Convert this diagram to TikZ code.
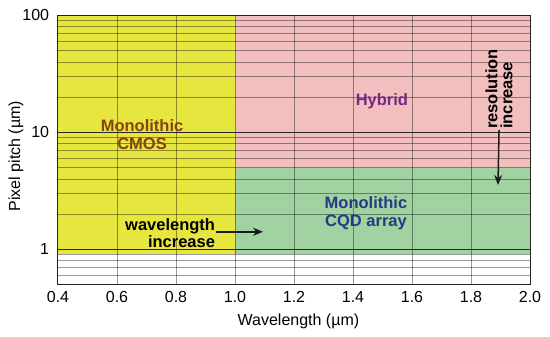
\documentclass[tikz,border=0pt]{standalone}
\usepackage{fontspec}
\setmainfont{Liberation Sans}
\usepackage{tikz}
\usetikzlibrary{positioning, arrows.meta}
\usepackage{xcolor}
\definecolor{cmosyellow}{RGB}{230,230,62}
\definecolor{hybridpink}{RGB}{242,190,190}
\definecolor{cqdgreen}{RGB}{160,210,162}
\definecolor{cmosbrown}{RGB}{132,66,22}
\definecolor{hybridpurple}{RGB}{115,40,130}
\definecolor{cqdblue}{RGB}{38,58,132}

\begin{document}
\begin{tikzpicture}[x=295pt, y=117pt,
    font=\fontsize{16}{18}\selectfont,
    gridline/.style={black, opacity=0.4, line width=0.5pt},
    majorline/.style={black!85, line width=0.9pt},
    regionlabel/.style={font=\fontsize{16.5}{18}\selectfont\bfseries, align=center, inner sep=1pt},
    arrowline/.style={-{Stealth[length=10pt, width=8pt]}, black!90, line width=1.5pt}]
        \useasboundingbox (0.2034,-0.741) rectangle (2.0678,2.131);
        % coloured regions
        \fill[cmosyellow] (0.4,{log10(0.92)}) rectangle (1.0,2);
        \fill[cqdgreen] (1.0,{log10(0.92)}) rectangle (2.0,{log10(5)});
        \fill[hybridpink] (1.0,{log10(5)}) rectangle (2.0,2);
        % grid
        \foreach \v in {0.6,0.7,0.8,0.9,2,3,...,9,20,30,...,90}
          \draw[gridline] (0.4,{log10(\v)}) -- (2.0,{log10(\v)});
        \foreach \w in {0.6,0.8,...,1.8}
          \draw[gridline] (\w,{log10(0.5)}) -- (\w,2);
        \draw[majorline] (0.4,0) -- (2.0,0);
        \draw[majorline] (0.4,1) -- (2.0,1);
        \draw[black!85, line width=1pt] (0.4,{log10(0.5)}) rectangle (2.0,2);
        % tick labels
        \foreach \w/\t [count=\i] in {0.4/0.4,0.6/0.6,0.8/0.8,1.0/1.0,1.2/1.2,1.4/1.4,1.6/1.6,1.8/1.8,2.0/2.0}
          \node[anchor=base] (xt\i) at (\w,-0.456) {\t};
        \foreach \e/\t [count=\i] in {0/1,1/10,2/100}
          \node[anchor=east, xshift=-5.4pt] (yt\i) at (0.4,\e) {\t};
        \node[anchor=base] (xlab) at (1.215,-0.647) {Wavelength (µm)};
        \node[rotate=90] (ylab) at (0.2576,0.797) {Pixel pitch (µm)};
        % regions
        \node[regionlabel, text=cmosbrown] (cmos) at (0.685,0.977) {Monolithic\\CMOS};
        \node[regionlabel, text=hybridpurple] (hyb) at (1.498,1.27) {Hybrid};
        \node[regionlabel, text=cqdblue] (cqd) at (1.444,0.310) {Monolithic\\CQD array};
        % trends
        \node[regionlabel, align=right, font=\fontsize{16.5}{14.5}\selectfont\bfseries]
          (wl) at (0.780,0.139) {wavelength\\increase};
        \coordinate (wlend) at (1.095,0.150);
        \draw[arrowline] (wl.east |- wlend) -- (wlend);
        \node[regionlabel, align=left, rotate=90, font=\fontsize{16.5}{15}\selectfont\bfseries]
          (res) at (1.895,1.371) {resolution\\increase};
        \coordinate (resend) at (1.8915,0.55);
        \draw[arrowline] (res.west) -- (resend);
      \end{tikzpicture}
\end{document}
